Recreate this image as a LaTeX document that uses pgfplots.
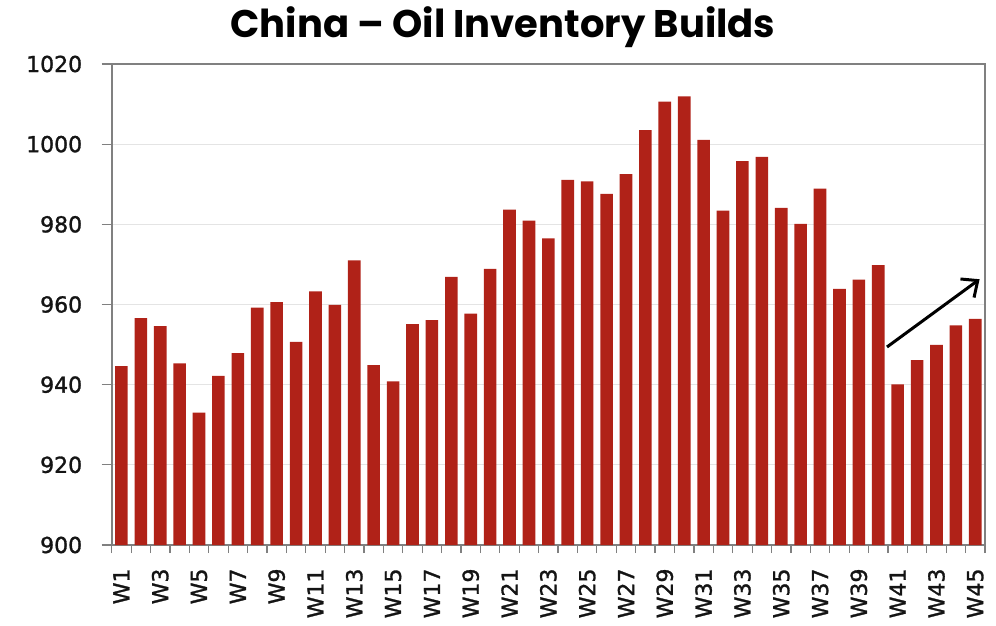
\documentclass[border=0pt]{standalone}
\usepackage{fontspec}
\usepackage{pgfplots}
\pgfplotsset{compat=1.18}
\usetikzlibrary{arrows.meta}
\setmainfont{DejaVu Sans}
\newfontfamily\titlefont{Poppins}
\newfontfamily\tickfont{DejaVu Sans}[FakeBold=1.3]
\definecolor{barred}{RGB}{176,34,24}
\definecolor{framegray}{RGB}{128,128,128}
\definecolor{gridgray}{RGB}{228,228,228}

\pgfplotstableread{
x y
0 944.6
1 956.6
2 954.6
3 945.3
4 933.0
5 942.2
6 947.9
7 959.2
8 960.6
9 950.7
10 963.3
11 959.9
12 971.0
13 944.9
14 940.8
15 955.1
16 956.1
17 966.9
18 957.7
19 968.9
20 983.7
21 980.9
22 976.5
23 991.1
24 990.7
25 987.6
26 992.5
27 1003.5
28 1010.6
29 1011.9
30 1001.1
31 983.4
32 995.8
33 996.8
34 984.1
35 980.1
36 988.9
37 963.9
38 966.2
39 969.8
40 940.1
41 946.1
42 949.9
43 954.8
44 956.4
}\inventory

\begin{document}
\begin{tikzpicture}[x=1pt,y=1pt]
\useasboundingbox (0,0) rectangle (996,625);
\node[font=\titlefont\bfseries\fontsize{38.5}{44}\selectfont, text=black] at (503,598) {China – Oil Inventory Builds};
\begin{axis}[
  at={(111.7pt,80pt)}, anchor=south west,
  width=873.3pt, height=481pt, scale only axis,
  xmin=-0.5, xmax=44.5, ymin=900, ymax=1020,
  ytick={900,920,...,1020},
  yticklabels={900,920,940,960,980,1000,1020},
  xtick={0,2,...,44},
  xticklabels={W1,W3,W5,W7,W9,W11,W13,W15,W17,W19,W21,W23,W25,W27,W29,W31,W33,W35,W37,W39,W41,W43,W45},
  minor xtick={-0.5,0.5,...,44.5},
  xtick pos=bottom, ytick pos=left,
  tick align=outside,
  major tick length=10pt, minor tick length=8pt,
  major x tick style={draw=none},
  minor x tick style={draw=framegray, line width=1.2pt},
  ytick style={draw=framegray, line width=1.2pt},
  ymajorgrids, grid style={draw=gridgray, line width=1pt},
  axis line style={draw=framegray, line width=1.6pt},
  tick label style={font=\tickfont\fontsize{22}{24}\selectfont, text=black!92},
  yticklabel style={xshift=-16pt},
  xticklabel style={rotate=90, anchor=east, xshift=-10pt},
]
\addplot[ybar, bar width=0.65, fill=barred, draw=none] table[x=x,y=y] {\inventory};
\draw[line width=3pt, -{Straight Barb[length=13pt,width=23pt,line width=3pt]}]
  (axis cs:39.45,949.4) -- (axis cs:44.22,966.3);
\end{axis}
\end{tikzpicture}
\end{document}
